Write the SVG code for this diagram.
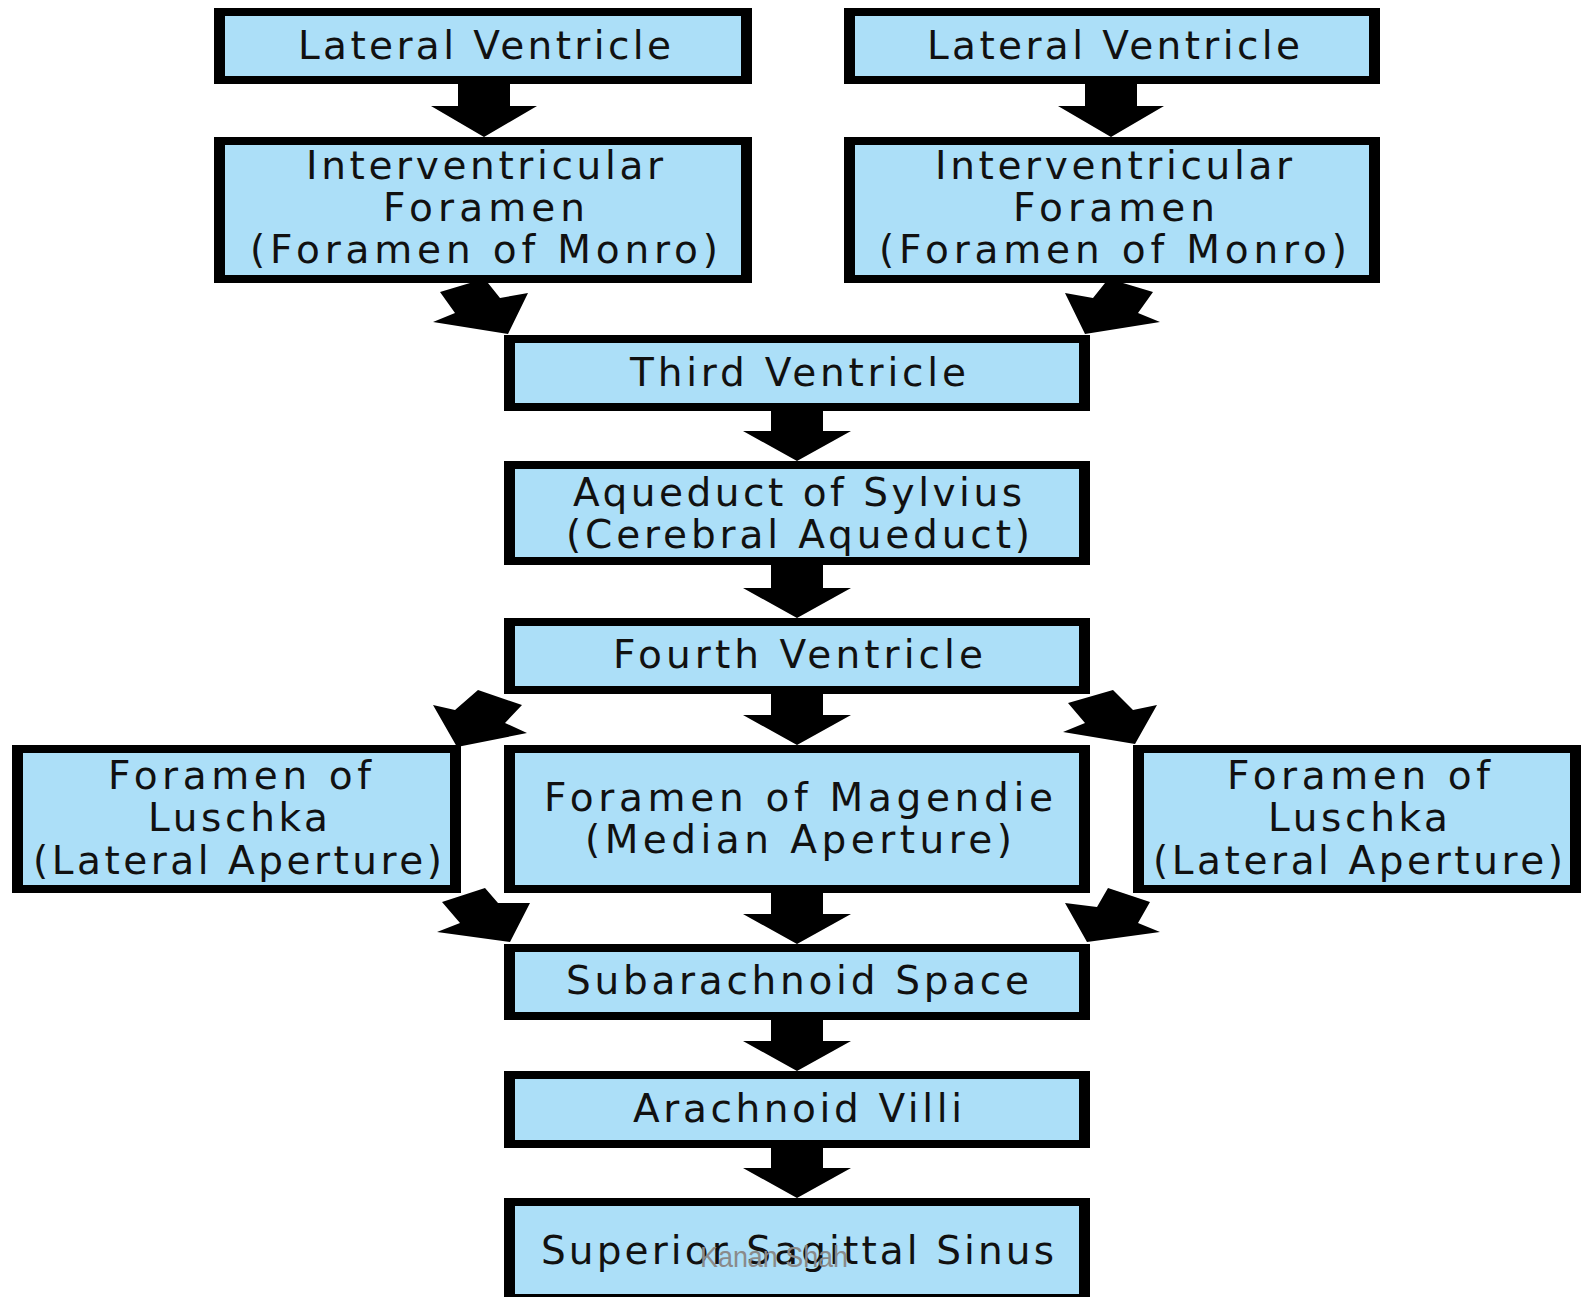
<svg xmlns="http://www.w3.org/2000/svg" width="1583" height="1297" viewBox="0 0 1583 1297">
<style>
.o{fill:#000}
.i{fill:#ACDFF8}
.t{font-family:"DejaVu Sans",Verdana,sans-serif;font-size:39px;fill:#111;text-anchor:middle}
.a{fill:#000}
.w{font-family:"Liberation Sans",Arial,sans-serif;font-size:30px;fill:#8a8a8a;text-anchor:middle}
</style>
<rect width="1583" height="1297" fill="#fff"/>
<g id="connectors">
<polygon class="a" points="458,84 510,84 510,106 537,106 484,137 431,106 458,106"/>
<polygon class="a" points="1085,84 1137,84 1137,106 1164,106 1111,137 1058,106 1085,106"/>
<polygon class="a" points="440,292 470,283 488,283 500,298 528,293 508,334 433,322 455,313"/>
<polygon class="a" points="1153,292 1123,283 1105,283 1093,298 1065,293 1085,334 1160,322 1138,313"/>
<polygon class="a" points="771,411 823,411 823,431 851,431 797,461 743,431 771,431"/>
<polygon class="a" points="771,565 823,565 823,588 851,588 797,618 743,588 771,588"/>
<polygon class="a" points="771,694 823,694 823,715 851,715 797,745 743,715 771,715"/>
<polygon class="a" points="478,690 522,705 505,723 527,733 457,747 433,705 455,710"/>
<polygon class="a" points="1068,703 1113,690 1133,710 1157,705 1135,744 1063,732 1085,723"/>
<polygon class="a" points="771,893 823,893 823,914 851,914 797,944 743,914 771,914"/>
<polygon class="a" points="442,902 485,888 498,903 530,903 510,942 437,932 460,923"/>
<polygon class="a" points="1150,902 1108,888 1097,907 1065,903 1087,942 1160,932 1138,923"/>
<polygon class="a" points="771,1020 823,1020 823,1041 851,1041 797,1071 743,1041 771,1041"/>
<polygon class="a" points="771,1148 823,1148 823,1168 851,1168 797,1198 743,1168 771,1168"/>
</g>
<g id="lv-left"><rect class="o" x="214" y="8" width="538" height="76"/><rect class="i" x="225" y="16" width="516" height="60"/><text class="t" x="484.5" y="59" textLength="373">Lateral Ventricle</text></g>
<g id="lv-right"><rect class="o" x="844" y="8" width="536" height="76"/><rect class="i" x="855" y="16" width="514" height="60"/><text class="t" x="1113.5" y="59" textLength="373">Lateral Ventricle</text></g>
<g id="ivf-left"><rect class="o" x="214" y="137" width="538" height="146"/><rect class="i" x="225" y="145" width="516" height="130"/><text class="t" x="484.5" y="179" textLength="357">Interventricular</text><text class="t" x="484" y="221" textLength="202">Foramen</text><text class="t" x="484" y="263" textLength="468">(Foramen of Monro)</text></g>
<g id="ivf-right"><rect class="o" x="844" y="137" width="536" height="146"/><rect class="i" x="855" y="145" width="514" height="130"/><text class="t" x="1113.5" y="179" textLength="357">Interventricular</text><text class="t" x="1114" y="221" textLength="202">Foramen</text><text class="t" x="1113" y="263" textLength="468">(Foramen of Monro)</text></g>
<g id="third"><rect class="o" x="504" y="335" width="586" height="76"/><rect class="i" x="515" y="343" width="564" height="60"/><text class="t" x="798" y="386" textLength="336">Third Ventricle</text></g>
<g id="aqueduct"><rect class="o" x="504" y="461" width="586" height="104"/><rect class="i" x="515" y="469" width="564" height="88"/><text class="t" x="797.5" y="506" textLength="449">Aqueduct of Sylvius</text><text class="t" x="798" y="548" textLength="464">(Cerebral Aqueduct)</text></g>
<g id="fourth"><rect class="o" x="504" y="618" width="586" height="76"/><rect class="i" x="515" y="626" width="564" height="60"/><text class="t" x="798" y="668" textLength="370">Fourth Ventricle</text></g>
<g id="luschka-left"><rect class="o" x="12" y="745" width="449" height="148"/><rect class="i" x="23" y="753" width="427" height="132"/><text class="t" x="239.5" y="789" textLength="263">Foramen of</text><text class="t" x="238" y="831" textLength="180">Luschka</text><text class="t" x="237.5" y="874" textLength="409">(Lateral Aperture)</text></g>
<g id="magendie"><rect class="o" x="504" y="745" width="586" height="148"/><rect class="i" x="515" y="753" width="564" height="132"/><text class="t" x="798.5" y="811" textLength="509">Foramen of Magendie</text><text class="t" x="798.5" y="853" textLength="427">(Median Aperture)</text></g>
<g id="luschka-right"><rect class="o" x="1133" y="745" width="448" height="148"/><rect class="i" x="1144" y="753" width="426" height="132"/><text class="t" x="1358.5" y="789" textLength="263">Foramen of</text><text class="t" x="1358" y="831" textLength="180">Luschka</text><text class="t" x="1358" y="874" textLength="410">(Lateral Aperture)</text></g>
<g id="subarachnoid"><rect class="o" x="504" y="944" width="586" height="76"/><rect class="i" x="515" y="952" width="564" height="60"/><text class="t" x="797.5" y="994" textLength="463">Subarachnoid Space</text></g>
<g id="villi"><rect class="o" x="504" y="1071" width="586" height="77"/><rect class="i" x="515" y="1079" width="564" height="61"/><text class="t" x="797.5" y="1122" textLength="329">Arachnoid Villi</text></g>
<g id="sinus"><rect class="o" x="504" y="1198" width="586" height="99"/><rect class="i" x="515" y="1206" width="564" height="88"/><text class="t" x="797.5" y="1264" textLength="513">Superior Sagittal Sinus</text><text class="w" x="774" y="1267" textLength="148" lengthAdjust="spacingAndGlyphs">Kanan Shah</text></g>
</svg>
